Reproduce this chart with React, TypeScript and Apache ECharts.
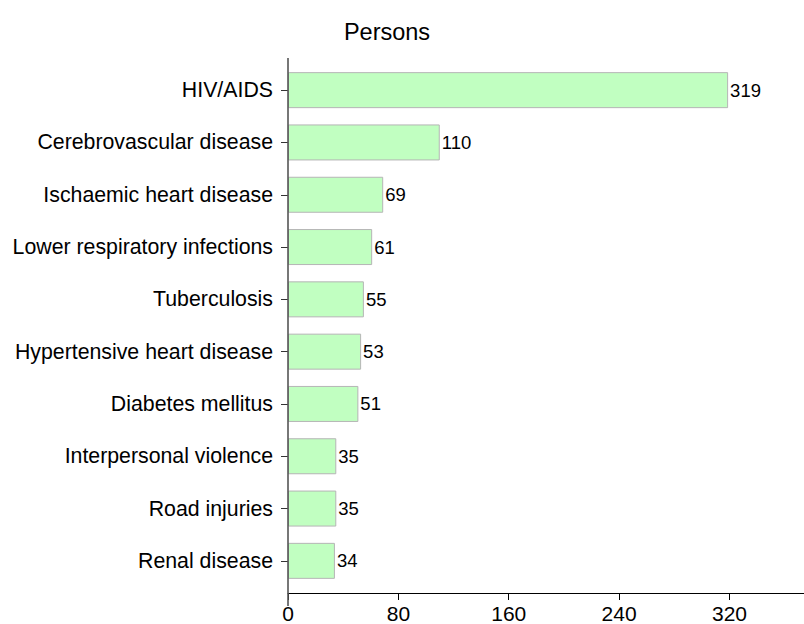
import React, { useEffect, useRef } from "react";
import * as echarts from "echarts";

const categories = [
  "HIV/AIDS",
  "Cerebrovascular disease",
  "Ischaemic heart disease",
  "Lower respiratory infections",
  "Tuberculosis",
  "Hypertensive heart disease",
  "Diabetes mellitus",
  "Interpersonal violence",
  "Road injuries",
  "Renal disease",
];
const values = [319, 110, 69, 61, 55, 53, 51, 35, 35, 34];
const titleText = "Persons";
const xMin = 0;
const xMax = 374;
const xInterval = 80;

const FONT = "'Liberation Sans', Arial, Helvetica, sans-serif";

export default function App() {
  const ref = useRef<HTMLDivElement>(null);
  useEffect(() => {
    if (!ref.current) return;
    const chart = echarts.init(ref.current, undefined, { renderer: "svg" });
    chart.setOption({
      animation: false,
      backgroundColor: "#ffffff",
      textStyle: { fontFamily: FONT },
      grid: { left: 288, right: 0, top: 64, bottom: 36, containLabel: false },
      xAxis: {
        type: "value",
        min: xMin,
        max: xMax,
        interval: xInterval,
        offset: 6,
        axisLine: { show: true, lineStyle: { color: "#000", width: 1 } },
        axisTick: { show: true, length: 7, lineStyle: { color: "#000", width: 1 } },
        axisLabel: {
          show: true,
          fontSize: 21,
          color: "#000",
          margin: 10,
          fontFamily: FONT,
          showMaxLabel: false,
        },
        splitLine: { show: false },
      },
      yAxis: {
        type: "category",
        inverse: true,
        data: categories,
        axisLine: { show: false },
        axisTick: {
          show: true,
          alignWithLabel: true,
          length: 7,
          lineStyle: { color: "#333", width: 1 },
        },
        axisLabel: { fontSize: 21.3, color: "#000", margin: 15, fontFamily: FONT },
        splitLine: { show: false },
      },
      series: [
        {
          type: "bar",
          data: values,
          barWidth: 36,
          itemStyle: { color: "#c1ffc1", borderColor: "#b5b5b5", borderWidth: 1 },
          label: {
            show: true,
            position: "right",
            distance: 2,
            fontSize: 18.5,
            color: "#000",
            fontFamily: FONT,
          },
        },
      ],
      graphic: [
        {
          type: "line",
          shape: { x1: 288, y1: 58, x2: 288, y2: 606 },
          style: { stroke: "#555", lineWidth: 1.6 },
          z: 10,
        },
        {
          type: "text",
          x: 387,
          y: 32,
          style: {
            text: titleText,
            fontSize: 23.5,
            fill: "#000",
            fontFamily: FONT,
            textAlign: "center",
            textVerticalAlign: "middle",
          },
        },
      ],
    });
    return () => chart.dispose();
  }, []);
  return <div ref={ref} style={{ width: 804, height: 624, position: "fixed", left: 0, top: 0 }} />;
}
